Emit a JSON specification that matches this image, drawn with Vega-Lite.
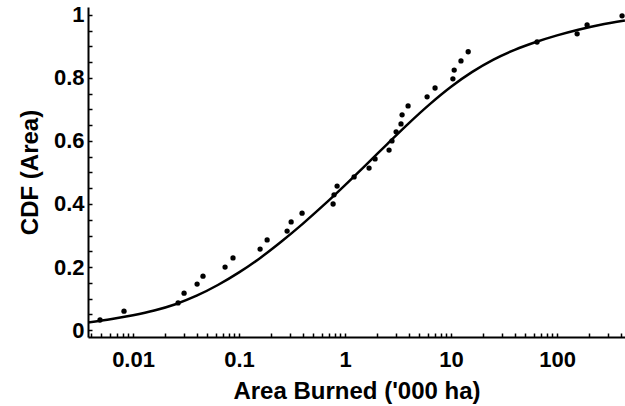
{
  "$schema": "https://vega.github.io/schema/vega-lite/v6.json",
  "autosize": "none",
  "width": 537,
  "height": 330,
  "padding": {"left": 88, "top": 7, "right": 0, "bottom": 69},
  "background": "white",
  "config": {
    "view": {"stroke": null},
    "axis": {
      "domainColor": "black",
      "domainWidth": 2,
      "tickColor": "black",
      "tickWidth": 1.5,
      "tickSize": -4,
      "grid": false,
      "labelFont": "Liberation Sans",
      "labelFontWeight": "bold",
      "labelFontSize": 22,
      "labelColor": "black",
      "titleFont": "Liberation Sans",
      "titleFontWeight": "bold",
      "titleFontSize": 24,
      "titleColor": "black",
      "labelOverlap": false,
      "labelFlush": false
    }
  },
  "datasets": {
    "obs": [
      {"area": 0.00488, "cdf": 0.032},
      {"area": 0.00822, "cdf": 0.060},
      {"area": 0.0266, "cdf": 0.086},
      {"area": 0.0303, "cdf": 0.117},
      {"area": 0.0402, "cdf": 0.146},
      {"area": 0.0457, "cdf": 0.171},
      {"area": 0.0738, "cdf": 0.200},
      {"area": 0.0877, "cdf": 0.229},
      {"area": 0.158, "cdf": 0.257},
      {"area": 0.184, "cdf": 0.286},
      {"area": 0.284, "cdf": 0.314},
      {"area": 0.310, "cdf": 0.343},
      {"area": 0.393, "cdf": 0.371},
      {"area": 0.771, "cdf": 0.400},
      {"area": 0.787, "cdf": 0.429},
      {"area": 0.841, "cdf": 0.457},
      {"area": 1.217, "cdf": 0.486},
      {"area": 1.684, "cdf": 0.514},
      {"area": 1.919, "cdf": 0.543},
      {"area": 2.60, "cdf": 0.571},
      {"area": 2.77, "cdf": 0.600},
      {"area": 3.03, "cdf": 0.629},
      {"area": 3.37, "cdf": 0.654},
      {"area": 3.45, "cdf": 0.683},
      {"area": 3.93, "cdf": 0.711},
      {"area": 5.94, "cdf": 0.740},
      {"area": 7.06, "cdf": 0.768},
      {"area": 10.4, "cdf": 0.797},
      {"area": 10.7, "cdf": 0.825},
      {"area": 12.4, "cdf": 0.854},
      {"area": 14.5, "cdf": 0.883},
      {"area": 64.7, "cdf": 0.914},
      {"area": 154.5, "cdf": 0.940},
      {"area": 191.9, "cdf": 0.968},
      {"area": 410, "cdf": 0.997}
    ],
    "fit": [
      {"area": 0.003715, "cdf": 0.024},
      {"area": 0.00631, "cdf": 0.035},
      {"area": 0.01, "cdf": 0.047},
      {"area": 0.01585, "cdf": 0.062},
      {"area": 0.02512, "cdf": 0.082},
      {"area": 0.03981, "cdf": 0.109},
      {"area": 0.0631, "cdf": 0.143},
      {"area": 0.1, "cdf": 0.183},
      {"area": 0.1585, "cdf": 0.229},
      {"area": 0.2512, "cdf": 0.281},
      {"area": 0.3981, "cdf": 0.337},
      {"area": 0.631, "cdf": 0.397},
      {"area": 1, "cdf": 0.460},
      {"area": 1.585, "cdf": 0.525},
      {"area": 2.512, "cdf": 0.591},
      {"area": 3.981, "cdf": 0.656},
      {"area": 6.31, "cdf": 0.717},
      {"area": 10, "cdf": 0.772},
      {"area": 15.85, "cdf": 0.819},
      {"area": 25.12, "cdf": 0.858},
      {"area": 39.81, "cdf": 0.889},
      {"area": 63.1, "cdf": 0.914},
      {"area": 100, "cdf": 0.935},
      {"area": 158.5, "cdf": 0.953},
      {"area": 251.2, "cdf": 0.968},
      {"area": 436.5, "cdf": 0.982}
    ]
  },
  "encoding": {
    "x": {
      "field": "area",
      "type": "quantitative",
      "title": "Area Burned ('000 ha)",
      "scale": {"type": "log", "domain": [0.00376, 437], "nice": false},
      "axis": {
        "values": [0.004, 0.005, 0.006, 0.007, 0.008, 0.009, 0.01, 0.02, 0.03, 0.04, 0.05, 0.06, 0.07, 0.08, 0.09, 0.1, 0.2, 0.3, 0.4, 0.5, 0.6, 0.7, 0.8, 0.9, 1, 2, 3, 4, 5, 6, 7, 8, 9, 10, 20, 30, 40, 50, 60, 70, 80, 90, 100, 200, 300, 400],
        "format": "~g",
        "labelExpr": "indexof([0.01, 0.1, 1, 10, 100], datum.value) >= 0 ? datum.label : ''",
        "labelPadding": 16,
        "titlePadding": 9
      }
    },
    "y": {
      "field": "cdf",
      "type": "quantitative",
      "title": "CDF (Area)",
      "scale": {"domain": [-0.022, 1.025], "nice": false, "zero": false},
      "axis": {
        "values": [0, 0.05, 0.1, 0.15, 0.2, 0.25, 0.3, 0.35, 0.4, 0.45, 0.5, 0.55, 0.6, 0.65, 0.7, 0.75, 0.8, 0.85, 0.9, 0.95, 1],
        "format": "~g",
        "labelExpr": "indexof([0, 0.2, 0.4, 0.6, 0.8, 1], datum.value) >= 0 ? datum.label : ''",
        "labelPadding": 8,
        "titlePadding": 11
      }
    }
  },
  "layer": [
    {
      "data": {"name": "fit"},
      "mark": {"type": "line", "color": "black", "strokeWidth": 2.5, "interpolate": "monotone", "clip": true}
    },
    {
      "data": {"name": "obs"},
      "mark": {"type": "circle", "color": "black", "opacity": 1, "size": 28}
    }
  ]
}
